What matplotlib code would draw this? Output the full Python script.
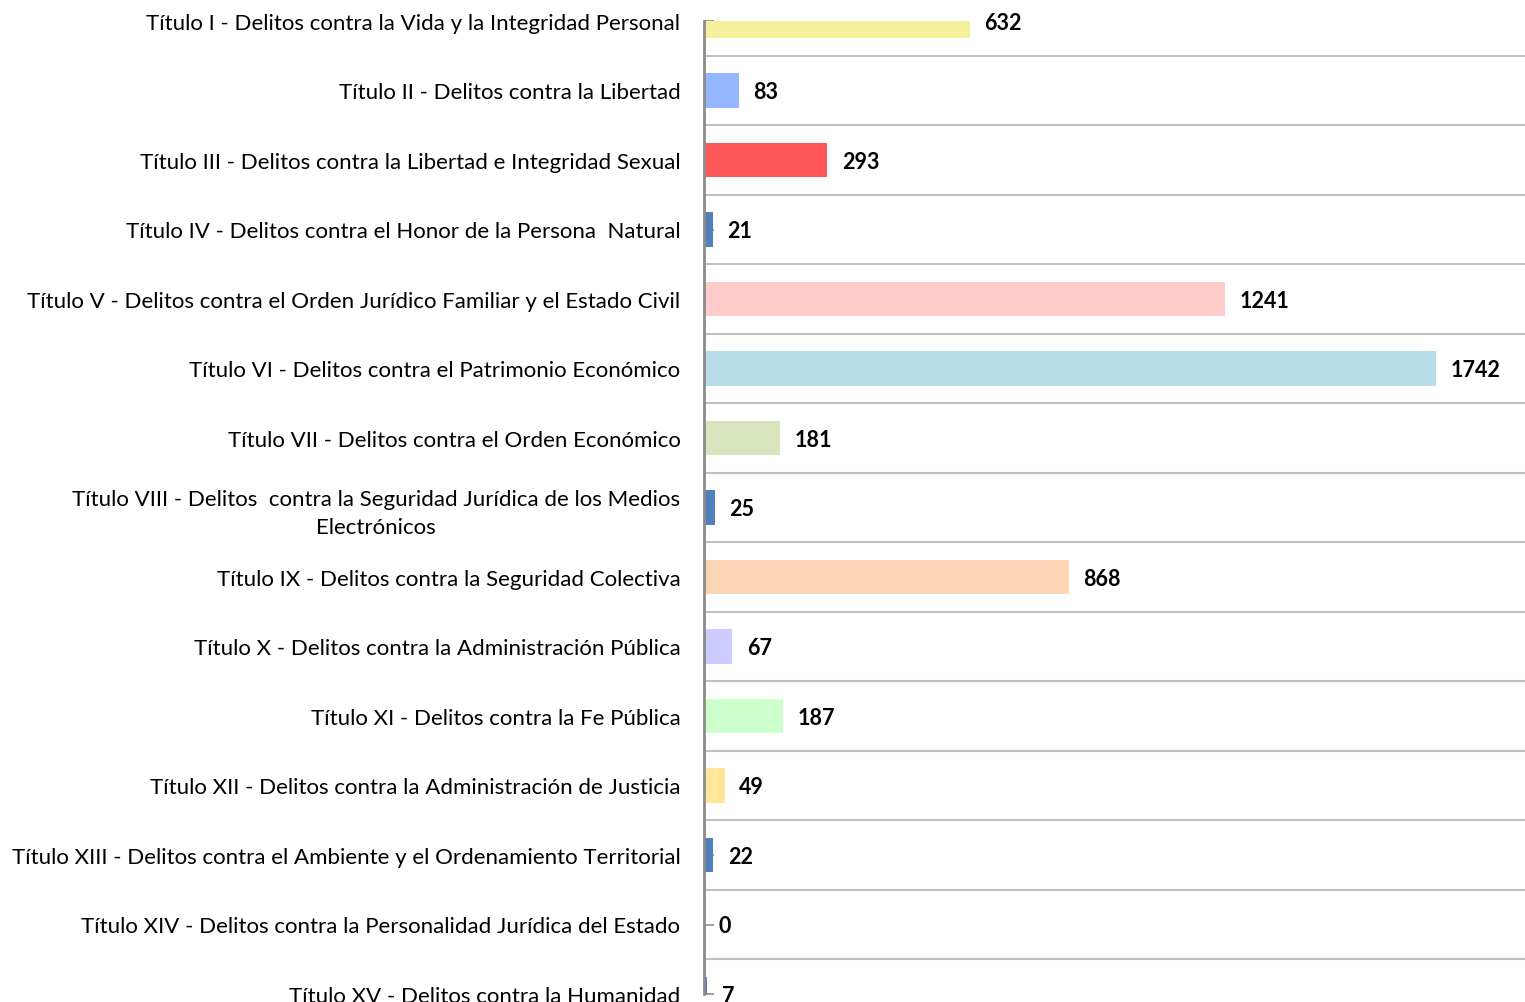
import matplotlib
matplotlib.use('Agg')
import matplotlib.pyplot as plt

# categorias y valores
categorias = [
    'Título I - Delitos contra la Vida y la Integridad Personal',
    'Título II - Delitos contra la Libertad',
    'Título III - Delitos contra la Libertad e Integridad Sexual',
    'Título IV - Delitos contra el Honor de la Persona  Natural',
    'Título V - Delitos contra el Orden Jurídico Familiar y el Estado Civil',
    'Título VI - Delitos contra el Patrimonio Económico',
    'Título VII - Delitos contra el Orden Económico',
    'Título VIII - Delitos  contra la Seguridad Jurídica de los Medios\nElectrónicos',
    'Título IX - Delitos contra la Seguridad Colectiva',
    'Título X - Delitos contra la Administración Pública',
    'Título XI - Delitos contra la Fe Pública',
    'Título XII - Delitos contra la Administración de Justicia',
    'Título XIII - Delitos contra el Ambiente y el Ordenamiento Territorial',
    'Título XIV - Delitos contra la Personalidad Jurídica del Estado',
    'Título XV - Delitos contra la Humanidad',
]
valores = [632, 83, 293, 21, 1241, 1742, 181, 25, 868, 67, 187, 49, 22, 0, 7]
colores = ['#F5F09B', '#94B6FF', '#FF5757', '#4F81BD', '#FFCCCC', '#B7DDE8',
           '#D7E4BD', '#4F81BD', '#FCD5B5', '#CCCCFF', '#CCFFCC', '#FFE699',
           '#4F81BD', '#4F81BD', '#4F81BD']

plt.rcParams['font.family'] = ['Lato', 'DejaVu Sans']

fig = plt.figure(figsize=(15.25, 10.03), dpi=100)
ax = fig.add_axes([704 / 1525, 8 / 1003, 821 / 1525, 973 / 1003])

y = list(range(len(categorias)))
ax.barh(y, valores, height=0.5, color=colores, zorder=2)

for yi, v in zip(y, valores):
    ax.annotate(str(v), xy=(v, yi), xytext=(10.5, -1), textcoords='offset points',
                ha='left', va='center', fontsize=15.5, fontweight='bold', color='black',
                annotation_clip=False)

ax.set_xlim(0, 1954)
ax.set_ylim(len(categorias) - 1, 0)

# lineas de separacion entre categorias
for b in range(len(categorias) - 1):
    ax.axhline(b + 0.5, color='#BFBFBF', lw=1.5, zorder=1)

ax.set_yticks(y)
ax.set_yticklabels(categorias, fontsize=16, ha='right', multialignment='center',
                   linespacing=1.45)
ax.tick_params(axis='y', direction='in', length=7, width=1.2, color='#8C8C8C', pad=17)
ax.set_xticks([])

for s in ['top', 'right', 'bottom']:
    ax.spines[s].set_visible(False)
ax.spines['left'].set_color('#8C8C8C')
ax.spines['left'].set_linewidth(2)

fig.savefig('out.png', dpi=100)
